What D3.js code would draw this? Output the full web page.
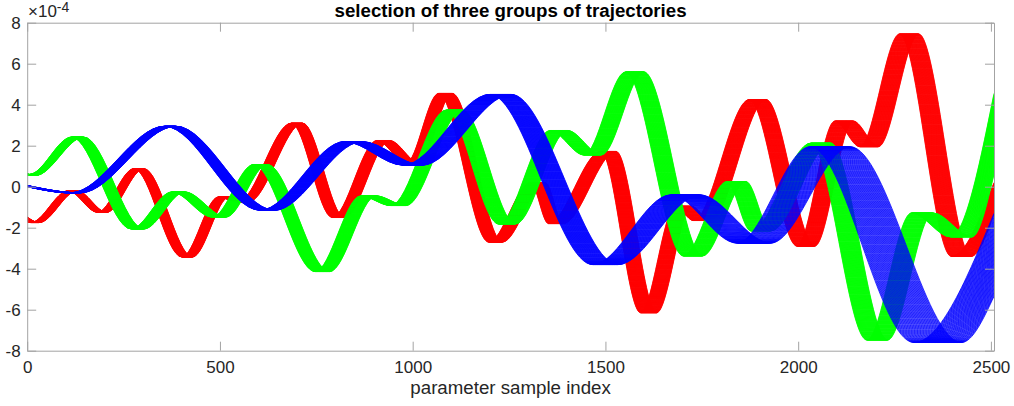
<!DOCTYPE html>
<html>
<head>
<meta charset="utf-8">
<script src="https://cdn.jsdelivr.net/npm/d3@7"></script>
<style>
  html, body { margin: 0; padding: 0; background: #ffffff; }
  svg { display: block; }
</style>
</head>
<body>
<svg id="chart" width="1014" height="406"></svg>
<script>
// ---------------- data (y in units of 1e-4) ----------------
const chartTitle = "selection of three groups of trajectories";
const xLabel = "parameter sample index";
const yExponent = "-4";
const xMax = 2508;
const xTicks = [0, 500, 1000, 1500, 2000, 2500];
const yTicks = [-8, -6, -4, -2, 0, 2, 4, 6, 8];
const linesPerGroup = 64;

// each group: first and last trajectory of the bundle (key points)
const redX0 = [0, 9, 106, 182, 277, 401, 496, 546, 685, 791, 907, 983, 1067, 1197, 1306, 1352, 1488, 1591, 1681, 1728, 1873, 1997, 2095, 2160, 2263, 2397, 2508];
const redY0 = [-1.72, -1.75, -0.2, -1.25, 0.88, -3.43, -0.5, -0.75, 3.1, -1.5, 2.25, 1.15, 4.55, -2.7, 0.2, -1.8, 1.72, -6.15, -0.95, -1.65, 4.25, -2.9, 3.2, 1.95, 7.45, -3.4, 0.2];
const redX1 = [0, 31, 130, 206, 303, 429, 524, 574, 715, 823, 941, 1017, 1103, 1233, 1344, 1390, 1528, 1633, 1723, 1772, 1917, 2043, 2143, 2208, 2313, 2449, 2508];
const redY1 = [-1.48, -1.75, -0.2, -1.25, 0.88, -3.43, -0.5, -0.75, 3.1, -1.5, 2.25, 1.15, 4.55, -2.7, 0.2, -1.8, 1.72, -6.15, -0.95, -1.65, 4.25, -2.9, 3.2, 1.95, 7.45, -3.4, -1.3];

const greenX0 = [0, 5, 115, 269, 375, 480, 587, 747, 865, 943, 1087, 1223, 1356, 1444, 1552, 1702, 1815, 1877, 2033, 2178, 2294, 2395, 2508];
const greenY0 = [0.62, 0.6, 2.42, -2.06, -0.26, -1.48, 1.08, -4.14, -0.45, -0.92, 3.74, -1.82, 2.74, 1.55, 5.6, -3.38, 0.25, -2.16, 2.13, -7.48, -1.28, -2.45, 4.55];
const greenX1 = [0, 22, 147, 303, 409, 516, 623, 785, 905, 983, 1129, 1267, 1402, 1490, 1600, 1752, 1865, 1929, 2085, 2232, 2350, 2451, 2508];
const greenY1 = [0.58, 0.55, 2.42, -2.06, -0.26, -1.48, 1.08, -4.14, -0.45, -0.92, 3.74, -1.82, 2.74, 1.55, 5.6, -3.38, 0.25, -2.16, 2.13, -7.48, -1.28, -2.45, 0.6];

const blueX0 = [0, 112, 356, 604, 823, 975, 1200, 1467, 1669, 1841, 2031, 2300, 2508];
const blueY0 = [0.0, -0.3, 2.95, -1.15, 2.2, 1.05, 4.5, -3.8, -0.4, -2.75, 1.95, -7.6, -1.3];
const blueX1 = [0, 138, 386, 642, 869, 1025, 1256, 1533, 1745, 1929, 2135, 2424, 2508];
const blueY1 = [0.06, -0.3, 2.95, -1.15, 2.2, 1.05, 4.5, -3.8, -0.4, -2.75, 1.95, -7.6, -5.35];

const groups = [
  { color: "#ff0000", x0: redX0, y0: redY0, x1: redX1, y1: redY1 },
  { color: "#00ff00", x0: greenX0, y0: greenY0, x1: greenX1, y1: greenY1 },
  { color: "#0000ff", x0: blueX0, y0: blueY0, x1: blueX1, y1: blueY1 }
];

// ---------------- layout ----------------
const W = 1014, H = 406;
const m = { l: 27.2, r: 994, t: 22.7, b: 350.7 };
const FONT = "'Liberation Sans', Arial, Helvetica, sans-serif";
const axisColor = "#a3a3a3";
const textColor = "#262626";

const svg = d3.select("#chart");
const x = d3.scaleLinear().domain([0, xMax]).range([m.l, m.r]);
const y = d3.scaleLinear().domain([-8, 8]).range([m.b, m.t]);

svg.append("defs").append("clipPath").attr("id", "plotclip")
  .append("rect").attr("x", m.l).attr("y", m.t)
  .attr("width", m.r - m.l).attr("height", m.b - m.t);

// ---------------- trajectories ----------------
const line = d3.line().x(d => x(d[0])).y(d => y(d[1])).curve(d3.curveMonotoneX);
const plot = svg.append("g").attr("clip-path", "url(#plotclip)");

groups.forEach(g => {
  const gg = plot.append("g");
  for (let k = 0; k < linesPerGroup; k++) {
    const t = k / (linesPerGroup - 1);
    const pts = g.x0.map((_, i) => [
      g.x0[i] + t * (g.x1[i] - g.x0[i]),
      g.y0[i] + t * (g.y1[i] - g.y0[i])
    ]);
    gg.append("path")
      .attr("d", line(pts))
      .attr("fill", "none")
      .attr("stroke", g.color)
      .attr("stroke-width", 0.8);
  }
});

// ---------------- axes ----------------
function styleAxis(sel, fs) {
  sel.attr("font-family", FONT).attr("font-size", fs);
  sel.selectAll("path.domain").attr("stroke", axisColor).attr("stroke-width", 1);
  sel.selectAll(".tick line").attr("stroke", axisColor).attr("stroke-width", 1);
  sel.selectAll(".tick text").attr("fill", textColor);
}

svg.append("g").attr("transform", `translate(0,${m.b})`)
  .call(d3.axisBottom(x).tickValues(xTicks).tickSizeInner(-9).tickSizeOuter(0)
    .tickPadding(10.5).tickFormat(d => String(d)))
  .call(s => styleAxis(s, 17));

svg.append("g").attr("transform", `translate(0,${m.t})`)
  .call(d3.axisTop(x).tickValues(xTicks).tickSizeInner(-9).tickSizeOuter(0)
    .tickFormat(() => ""))
  .call(s => styleAxis(s, 17));

svg.append("g").attr("transform", `translate(${m.l},0)`)
  .call(d3.axisLeft(y).tickValues(yTicks).tickSizeInner(-9).tickSizeOuter(0)
    .tickPadding(6.5).tickFormat(d => String(d)))
  .call(s => styleAxis(s, 17));

svg.append("g").attr("transform", `translate(${m.r},0)`)
  .call(d3.axisRight(y).tickValues(yTicks).tickSizeInner(-9).tickSizeOuter(0)
    .tickFormat(() => ""))
  .call(s => styleAxis(s, 17));

// exponent label
const ex = svg.append("text")
  .attr("x", 28).attr("y", 17)
  .attr("font-family", FONT).attr("font-size", 17).attr("fill", textColor);
ex.append("tspan").text("\u00d710");
ex.append("tspan").attr("dy", -5).attr("font-size", 14).text(yExponent);

// title
svg.append("text")
  .attr("x", (m.l + m.r) / 2).attr("y", 17)
  .attr("text-anchor", "middle")
  .attr("font-family", FONT).attr("font-size", 18.7).attr("font-weight", "bold")
  .attr("fill", "#000000")
  .text(chartTitle);

// x label
svg.append("text")
  .attr("x", (m.l + m.r) / 2).attr("y", 394)
  .attr("text-anchor", "middle")
  .attr("font-family", FONT).attr("font-size", 18.7)
  .attr("fill", textColor)
  .text(xLabel);
</script>
</body>
</html>
